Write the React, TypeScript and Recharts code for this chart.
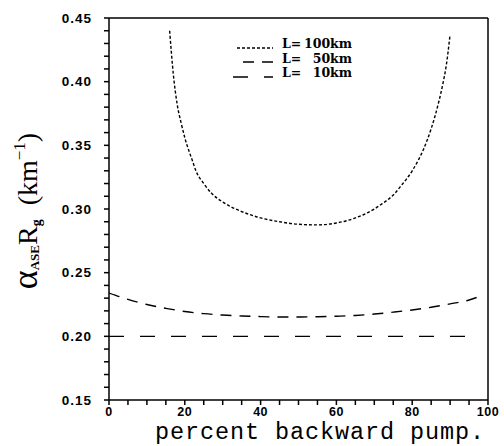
import { LineChart, Line, XAxis, YAxis, ReferenceLine, Legend } from "recharts";

// x axis: percent backward pump
const xTicks = [0, 5, 10, 15, 20, 25, 30, 35, 40, 45, 50, 55, 60, 65, 70, 75, 80, 85, 90, 95, 100];
const xLabeled = [0, 20, 40, 60, 80, 100];

// y axis: alpha_ASE * R_g (km^-1)
const yTicks = [
  0.15, 0.16, 0.17, 0.18, 0.19, 0.2, 0.21, 0.22, 0.23, 0.24, 0.25, 0.26, 0.27, 0.28, 0.29, 0.3,
  0.31, 0.32, 0.33, 0.34, 0.35, 0.36, 0.37, 0.38, 0.39, 0.4, 0.41, 0.42, 0.43, 0.44, 0.45,
];
const yLabeled = ["0.15", "0.20", "0.25", "0.30", "0.35", "0.40", "0.45"];

// L = 100 km
const pump100 = [16, 17, 18, 19, 20, 22, 23, 25, 27, 30, 32, 35, 40, 45, 50, 55, 60, 65, 70, 72, 75, 77, 80, 83, 85, 87, 88, 89, 90];
const ase100 = [
  0.44, 0.405, 0.382, 0.368, 0.356, 0.338, 0.3295, 0.32, 0.3125, 0.3055, 0.302, 0.298, 0.293, 0.29,
  0.288, 0.2875, 0.289, 0.293, 0.3, 0.304, 0.311, 0.318, 0.33, 0.347, 0.363, 0.384, 0.397, 0.413, 0.437,
];

// L = 50 km
const pump50 = [0, 5, 10, 15, 20, 25, 30, 35, 40, 45, 50, 55, 60, 65, 70, 75, 80, 85, 90, 95, 97];
const ase50 = [
  0.234, 0.229, 0.225, 0.222, 0.2195, 0.2178, 0.2167, 0.216, 0.2155, 0.2152, 0.2152, 0.2154,
  0.2158, 0.2164, 0.2175, 0.219, 0.2207, 0.2228, 0.2255, 0.2285, 0.2305,
];

// L = 10 km
const pump10 = [0, 25, 50, 75, 97];
const ase10 = [0.2, 0.2, 0.2, 0.2, 0.2];

const toRows = (xs: number[], ys: number[]) => xs.map((x, i) => ({ x, y: ys[i] }));

const series = [
  { name: "L=100km", label: "100km", data: toRows(pump100, ase100), dash: "3 2" },
  { name: "L= 50km", label: "50km", data: toRows(pump50, ase50), dash: "11 8" },
  { name: "L= 10km", label: "10km", data: toRows(pump10, ase10), dash: "15 16" },
];

const legendSamples = [
  { x1: 7, x2: 43, y: 12 },
  { x1: 13, x2: 43, y: 26 },
  { x1: 3, x2: 43, y: 41 },
];

function LegendBox() {
  return (
    <svg width={130} height={48} style={{ display: "block" }}>
      {series.map((s, i) => (
        <g key={s.name}>
          <line
            x1={legendSamples[i].x1}
            x2={legendSamples[i].x2}
            y1={legendSamples[i].y}
            y2={legendSamples[i].y}
            stroke="#000"
            strokeWidth={1.5}
            strokeDasharray={s.dash}
          />
          <text x={52} y={12 + i * 14.5} fontFamily="DejaVu Serif" fontWeight="bold" fontSize={12.5} fill="#000">
            L=
          </text>
          <text
            x={122}
            y={12 + i * 14.5}
            textAnchor="end"
            fontFamily="DejaVu Serif"
            fontWeight="bold"
            fontSize={12.5}
            fill="#000"
          >
            {s.label}
          </text>
        </g>
      ))}
    </svg>
  );
}

function YTitle() {
  return (
    <text
      x={37}
      y={211}
      transform="rotate(-90, 37, 211)"
      textAnchor="middle"
      fontFamily="Liberation Serif"
      fontSize={28}
      fill="#000"
    >
      <tspan fontSize={36}>α</tspan>
      <tspan fontSize={13} fontWeight="bold" dy={2}>ASE</tspan>
      <tspan dy={-2}>R</tspan>
      <tspan fontSize={14} fontWeight="bold" dy={4}>g</tspan>
      <tspan dy={-4}>{"\u00a0\u00a0(km"}</tspan>
      <tspan fontSize={17} dy={-12}>−1</tspan>
      <tspan dy={12}>)</tspan>
    </text>
  );
}

function XTitle() {
  return (
    <text x={155} y={439} fontFamily="Liberation Mono" fontSize={23.5} letterSpacing={0.9} fill="#000">
      percent backward pump.
    </text>
  );
}

export default function App() {
  return (
    <div style={{ position: "absolute", left: 0, top: 0, background: "#fff" }}>
      <LineChart width={504} height={446} margin={{ top: 18, right: 16, bottom: 26, left: 0 }}>
        <XAxis
          type="number"
          dataKey="x"
          domain={[0, 100]}
          ticks={xTicks}
          interval={0}
          height={20}
          tickFormatter={(v: number) => (xLabeled.includes(v) ? String(v) : "")}
          tick={{ fontSize: 12.5, fontFamily: "Liberation Sans", fontWeight: "bold", fill: "#000", letterSpacing: 0.5 }}
          tickSize={5}
          tickMargin={2}
          stroke="#000"
          strokeWidth={1.5}
          allowDataOverflow
          label={<XTitle />}
        />
        <YAxis
          type="number"
          domain={[0.15, 0.45]}
          ticks={yTicks}
          interval={0}
          width={109}
          tickFormatter={(v: number) => (yLabeled.includes(v.toFixed(2)) ? v.toFixed(2) : "")}
          tick={{ fontSize: 13.5, fontFamily: "Liberation Sans", fontWeight: "bold", fill: "#000", letterSpacing: 1 }}
          tickSize={5}
          tickMargin={12}
          stroke="#000"
          strokeWidth={1.5}
          allowDataOverflow
          label={<YTitle />}
        />
        <ReferenceLine y={0.45} stroke="#000" strokeWidth={1.5} />
        <ReferenceLine x={100} stroke="#000" strokeWidth={1.5} />
        <Legend
          layout="horizontal"
          verticalAlign="middle"
          align="center"
          content={() => <LegendBox />}
          wrapperStyle={{ position: "absolute", left: 230, top: 36, width: 130, height: 48 }}
        />
        {series.map((s) => (
          <Line
            key={s.name}
            name={s.name}
            data={s.data}
            dataKey="y"
            type="monotone"
            stroke="#000"
            strokeWidth={1.4}
            strokeDasharray={s.dash}
            dot={false}
            activeDot={false}
            isAnimationActive={false}
          />
        ))}
      </LineChart>
    </div>
  );
}
